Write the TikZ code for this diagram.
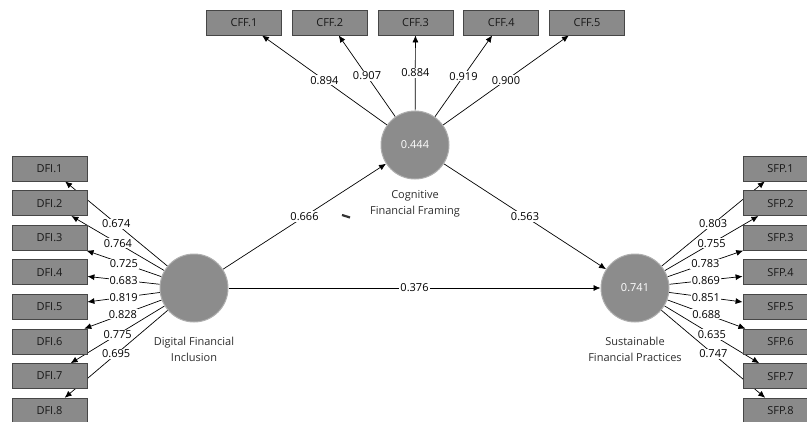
\documentclass[tikz,border=0pt]{standalone}
\usepackage{fontspec}
\setmainfont{Open Sans}
\usetikzlibrary{positioning,arrows.meta,backgrounds}

\definecolor{boxgray}{RGB}{138,138,138}
\definecolor{boxedge}{RGB}{70,70,70}
\definecolor{lvgray}{RGB}{140,140,140}
\definecolor{lvedge}{RGB}{175,175,175}
\definecolor{lvtext}{RGB}{45,45,45}

\begin{document}
\begin{tikzpicture}[x=1pt, y=-1pt,
        font=\fontsize{11}{16}\selectfont,
        ind/.style={draw=boxedge, fill=boxgray, line width=0.8pt, minimum width=75pt, minimum height=25pt, inner sep=0pt, text=black!90},
        lv/.style={circle, draw=lvedge, fill=lvgray, line width=1pt, minimum size=68pt, inner sep=0pt, text=white},
        lvname/.style={align=center, text=lvtext, inner sep=0pt},
        link/.style={draw, line width=0.7pt, -{Latex[length=7pt,width=6pt]}},
        coef/.style={midway, fill=white, inner sep=1pt}]
        \useasboundingbox (0,0) rectangle (807,421);

        % latent variables
        \node[lv] (dfi) at (194,288) {};
        \node[lv] (cff) at (415,145) {0.444};
        \node[lv] (sfp) at (635,288) {0.741};

        \node[lvname, below=14pt of dfi] (dfiname) {Digital Financial\\Inclusion};
        \node[lvname, below=11pt of cff] (cffname) {Cognitive\\Financial Framing};
        \node[lvname, below=14pt of sfp] (sfpname) {Sustainable\\Financial Practices};

        % indicators
        \node[ind] (cff1) at (244,22.5) {CFF.1};
        \node[ind] (cff2) at (329.75,22.5) {CFF.2};
        \node[ind] (cff3) at (415.5,22.5) {CFF.3};
        \node[ind] (cff4) at (501.25,22.5) {CFF.4};
        \node[ind] (cff5) at (587,22.5) {CFF.5};

        \node[ind] (dfi1) at (49.5,168.5) {DFI.1};
        \node[ind] (dfi2) at (49.5,203.1) {DFI.2};
        \node[ind] (dfi3) at (49.5,237.7) {DFI.3};
        \node[ind] (dfi4) at (49.5,272.3) {DFI.4};
        \node[ind] (dfi5) at (49.5,306.9) {DFI.5};
        \node[ind] (dfi6) at (49.5,341.5) {DFI.6};
        \node[ind] (dfi7) at (49.5,376.1) {DFI.7};
        \node[ind] (dfi8) at (49.5,410.7) {DFI.8};

        \node[ind] (sfp1) at (780.5,168.5) {SFP.1};
        \node[ind] (sfp2) at (780.5,203.1) {SFP.2};
        \node[ind] (sfp3) at (780.5,237.7) {SFP.3};
        \node[ind] (sfp4) at (780.5,272.3) {SFP.4};
        \node[ind] (sfp5) at (780.5,306.9) {SFP.5};
        \node[ind] (sfp6) at (780.5,341.5) {SFP.6};
        \node[ind] (sfp7) at (780.5,376.1) {SFP.7};
        \node[ind] (sfp8) at (780.5,410.7) {SFP.8};

        \begin{scope}[on background layer]
        % outer loadings
        \draw[link] (cff) -- (cff1) node[coef] (wc1) {0.894};
        \draw[link] (cff) -- (cff2) node[coef] (wc2) {0.907};
        \draw[link] (cff) -- (cff3) node[coef] (wc3) {0.884};
        \draw[link] (cff) -- (cff4) node[coef] (wc4) {0.919};
        \draw[link] (cff) -- (cff5) node[coef] (wc5) {0.900};

        \draw[link] (dfi) -- (dfi1) node[coef] (wd1) {0.674};
        \draw[link] (dfi) -- (dfi2) node[coef] (wd2) {0.764};
        \draw[link] (dfi) -- (dfi3) node[coef] (wd3) {0.725};
        \draw[link] (dfi) -- (dfi4) node[coef] (wd4) {0.683};
        \draw[link] (dfi) -- (dfi5) node[coef] (wd5) {0.819};
        \draw[link] (dfi) -- (dfi6) node[coef] (wd6) {0.828};
        \draw[link] (dfi) -- (dfi7) node[coef] (wd7) {0.775};
        \draw[link] (dfi) -- (dfi8) node[coef] (wd8) {0.695};

        \draw[link] (sfp) -- (sfp1) node[coef] (ws1) {0.803};
        \draw[link] (sfp) -- (sfp2) node[coef] (ws2) {0.755};
        \draw[link] (sfp) -- (sfp3) node[coef] (ws3) {0.783};
        \draw[link] (sfp) -- (sfp4) node[coef] (ws4) {0.869};
        \draw[link] (sfp) -- (sfp5) node[coef] (ws5) {0.851};
        \draw[link] (sfp) -- (sfp6) node[coef] (ws6) {0.688};
        \draw[link] (sfp) -- (sfp7) node[coef] (ws7) {0.635};
        \draw[link] (sfp) -- (sfp8) node[coef] (ws8) {0.747};

        % path coefficients
        \draw[link] (dfi) -- (cff) node[coef] (b1) {0.666};
        \draw[link] (cff) -- (sfp) node[coef] (b2) {0.563};
        \draw[link] (dfi) -- (sfp) node[coef] (b3) {0.376};
        \end{scope}

        %\draw stray mark
        \draw[line width=2.2pt, black!80] (342,215) -- (350,217.5);
    \end{tikzpicture}
\end{document}
